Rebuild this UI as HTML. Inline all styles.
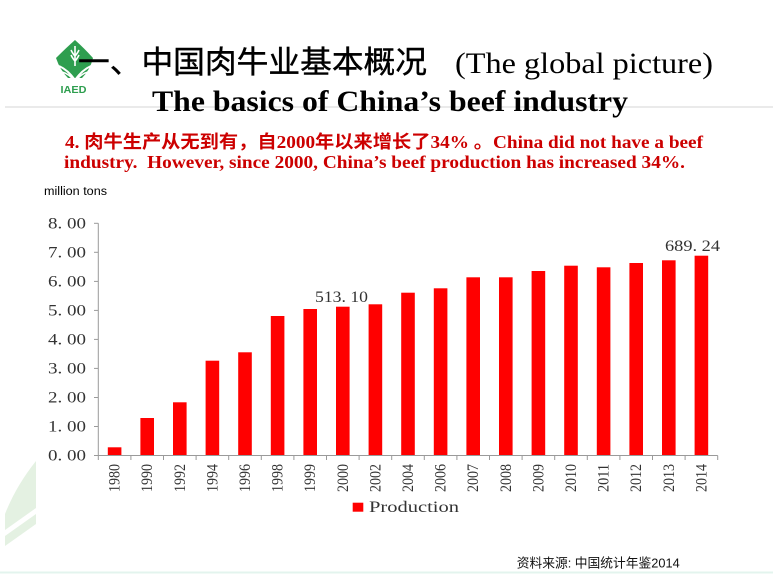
<!DOCTYPE html>
<html><head><meta charset="utf-8"><style>
html,body{margin:0;padding:0;background:#fff;}
svg{display:block;}
</style></head><body>
<svg width="773" height="574" viewBox="0 0 773 574" xmlns="http://www.w3.org/2000/svg">
<rect width="773" height="574" fill="#ffffff"/>
<!-- background leaf decoration -->
<path d="M36,461 L36,508 L5,530 L5,514 Q16,486 36,461 Z" fill="#e4f1e2"/>
<path d="M36,514 L36,524 L5,546 L5,536 Z" fill="#e4f1e2"/>
<line x1="0" y1="572.5" x2="773" y2="572.5" stroke="#e3f4ee" stroke-width="2"/>
<!-- logo -->
<path d="M75,40 Q84,48 93,58 Q90,70 82,78 L68,78 Q60,70 56,58 Q66,48 75,40 Z" fill="#2e9e4f"/>
<path d="M75,46 L75,66 M71,50 Q73,54 75,56 M79,50 Q77,54 75,56 M71,55 Q73,59 75,61 M79,55 Q77,59 75,61" stroke="#fff" stroke-width="1.6" fill="none"/>
<path d="M59,66 Q68,70 75,80 Q82,70 91,66" stroke="#fff" stroke-width="2" fill="none"/>
<path d="M62,72 Q70,74 75,82 Q80,74 88,72" stroke="#fff" stroke-width="1.5" fill="none"/>
<text x="60.5" y="93" font-family="Liberation Sans, sans-serif" font-weight="bold" font-size="10" fill="#2e9e4f" textLength="26" lengthAdjust="spacingAndGlyphs">IAED</text>
<!-- separator -->
<line x1="5" y1="107" x2="773" y2="107" stroke="#d4d4d4" stroke-width="1"/>
<!-- titles -->
<text x="78" y="73" font-family="Liberation Serif, 'Noto Sans CJK SC', sans-serif" font-size="31" fill="#000" stroke="#000" stroke-width="0.4" textLength="349" lengthAdjust="spacingAndGlyphs">一、中国肉牛业基本概况</text>
<text x="455" y="73" font-family="Liberation Serif, 'Noto Serif CJK SC', serif" font-size="30" fill="#000" textLength="258" lengthAdjust="spacingAndGlyphs">(The global picture)</text>
<text x="152" y="111" font-family="Liberation Serif, serif" font-weight="bold" font-size="30" fill="#000" textLength="476" lengthAdjust="spacingAndGlyphs">The basics of China’s beef industry</text>
<text x="65" y="148" font-family="Liberation Serif, 'Noto Sans CJK SC', serif" font-weight="bold" font-size="18" fill="#cc0000" textLength="638" lengthAdjust="spacingAndGlyphs">4. 肉牛生产从无到有，自2000年以来增长了34% 。China did not have a beef</text>
<text x="64" y="168" font-family="Liberation Serif, serif" font-weight="bold" font-size="18" fill="#cc0000" textLength="621" lengthAdjust="spacingAndGlyphs">industry.&#160; However, since 2000, China’s beef production has increased 34%.</text>
<text x="44" y="195" font-family="Liberation Sans, sans-serif" font-size="11.5" fill="#000" textLength="63" lengthAdjust="spacingAndGlyphs">million tons</text>
<!-- y axis -->
<g stroke="#9a9a9a" stroke-width="1">
<line x1="98.3" y1="223.3" x2="98.3" y2="455.5"/>
<line x1="94" y1="223.3" x2="98.3" y2="223.3"/>
<line x1="94" y1="252.3" x2="98.3" y2="252.3"/>
<line x1="94" y1="281.4" x2="98.3" y2="281.4"/>
<line x1="94" y1="310.4" x2="98.3" y2="310.4"/>
<line x1="94" y1="339.4" x2="98.3" y2="339.4"/>
<line x1="94" y1="368.4" x2="98.3" y2="368.4"/>
<line x1="94" y1="397.5" x2="98.3" y2="397.5"/>
<line x1="94" y1="426.5" x2="98.3" y2="426.5"/>
<line x1="94" y1="455.5" x2="98.3" y2="455.5"/>
</g>
<g font-family="Liberation Serif, serif" font-size="16" fill="#333">
<text x="48" y="228.5" textLength="38" lengthAdjust="spacingAndGlyphs">8. 00</text>
<text x="48" y="257.5" textLength="38" lengthAdjust="spacingAndGlyphs">7. 00</text>
<text x="48" y="286.5" textLength="38" lengthAdjust="spacingAndGlyphs">6. 00</text>
<text x="48" y="315.5" textLength="38" lengthAdjust="spacingAndGlyphs">5. 00</text>
<text x="48" y="344.5" textLength="38" lengthAdjust="spacingAndGlyphs">4. 00</text>
<text x="48" y="373.5" textLength="38" lengthAdjust="spacingAndGlyphs">3. 00</text>
<text x="48" y="402.5" textLength="38" lengthAdjust="spacingAndGlyphs">2. 00</text>
<text x="48" y="431.5" textLength="38" lengthAdjust="spacingAndGlyphs">1. 00</text>
<text x="48" y="460.5" textLength="38" lengthAdjust="spacingAndGlyphs">0. 00</text>
</g>
<!-- bars -->
<g fill="#ff0000">
<rect x="107.8" y="447.3" width="13.6" height="8.2"/>
<rect x="140.4" y="418" width="13.6" height="37.5"/>
<rect x="173.0" y="402.3" width="13.6" height="53.2"/>
<rect x="205.6" y="360.7" width="13.6" height="94.8"/>
<rect x="238.2" y="352.3" width="13.6" height="103.2"/>
<rect x="270.8" y="316" width="13.6" height="139.5"/>
<rect x="303.4" y="309" width="13.6" height="146.5"/>
<rect x="336.0" y="306.7" width="13.6" height="148.8"/>
<rect x="368.6" y="304.3" width="13.6" height="151.2"/>
<rect x="401.2" y="292.7" width="13.6" height="162.8"/>
<rect x="433.8" y="288.3" width="13.6" height="167.2"/>
<rect x="466.4" y="277.3" width="13.6" height="178.2"/>
<rect x="499.0" y="277.3" width="13.6" height="178.2"/>
<rect x="531.6" y="271" width="13.6" height="184.5"/>
<rect x="564.2" y="265.7" width="13.6" height="189.8"/>
<rect x="596.8" y="267.3" width="13.6" height="188.2"/>
<rect x="629.4" y="263" width="13.6" height="192.5"/>
<rect x="662.0" y="260.3" width="13.6" height="195.2"/>
<rect x="694.6" y="255.7" width="13.6" height="199.8"/>
</g>
<!-- x axis -->
<g stroke="#9a9a9a" stroke-width="1">
<line x1="98.3" y1="455.5" x2="717.7" y2="455.5"/>
<line x1="98.3" y1="455.5" x2="98.3" y2="460"/>
<line x1="130.9" y1="455.5" x2="130.9" y2="460"/>
<line x1="163.5" y1="455.5" x2="163.5" y2="460"/>
<line x1="196.1" y1="455.5" x2="196.1" y2="460"/>
<line x1="228.7" y1="455.5" x2="228.7" y2="460"/>
<line x1="261.3" y1="455.5" x2="261.3" y2="460"/>
<line x1="293.9" y1="455.5" x2="293.9" y2="460"/>
<line x1="326.5" y1="455.5" x2="326.5" y2="460"/>
<line x1="359.1" y1="455.5" x2="359.1" y2="460"/>
<line x1="391.7" y1="455.5" x2="391.7" y2="460"/>
<line x1="424.3" y1="455.5" x2="424.3" y2="460"/>
<line x1="456.9" y1="455.5" x2="456.9" y2="460"/>
<line x1="489.5" y1="455.5" x2="489.5" y2="460"/>
<line x1="522.1" y1="455.5" x2="522.1" y2="460"/>
<line x1="554.7" y1="455.5" x2="554.7" y2="460"/>
<line x1="587.3" y1="455.5" x2="587.3" y2="460"/>
<line x1="619.9" y1="455.5" x2="619.9" y2="460"/>
<line x1="652.5" y1="455.5" x2="652.5" y2="460"/>
<line x1="685.1" y1="455.5" x2="685.1" y2="460"/>
<line x1="717.7" y1="455.5" x2="717.7" y2="460"/>
</g>
<g font-family="Liberation Serif, serif" font-size="16" fill="#333" text-anchor="end">
<text transform="translate(119.6,464) rotate(-90)" textLength="28" lengthAdjust="spacingAndGlyphs">1980</text>
<text transform="translate(152.2,464) rotate(-90)" textLength="28" lengthAdjust="spacingAndGlyphs">1990</text>
<text transform="translate(184.8,464) rotate(-90)" textLength="28" lengthAdjust="spacingAndGlyphs">1992</text>
<text transform="translate(217.4,464) rotate(-90)" textLength="28" lengthAdjust="spacingAndGlyphs">1994</text>
<text transform="translate(250.0,464) rotate(-90)" textLength="28" lengthAdjust="spacingAndGlyphs">1996</text>
<text transform="translate(282.6,464) rotate(-90)" textLength="28" lengthAdjust="spacingAndGlyphs">1998</text>
<text transform="translate(315.2,464) rotate(-90)" textLength="28" lengthAdjust="spacingAndGlyphs">1999</text>
<text transform="translate(347.8,464) rotate(-90)" textLength="28" lengthAdjust="spacingAndGlyphs">2000</text>
<text transform="translate(380.4,464) rotate(-90)" textLength="28" lengthAdjust="spacingAndGlyphs">2002</text>
<text transform="translate(413.0,464) rotate(-90)" textLength="28" lengthAdjust="spacingAndGlyphs">2004</text>
<text transform="translate(445.6,464) rotate(-90)" textLength="28" lengthAdjust="spacingAndGlyphs">2006</text>
<text transform="translate(478.2,464) rotate(-90)" textLength="28" lengthAdjust="spacingAndGlyphs">2007</text>
<text transform="translate(510.8,464) rotate(-90)" textLength="28" lengthAdjust="spacingAndGlyphs">2008</text>
<text transform="translate(543.4,464) rotate(-90)" textLength="28" lengthAdjust="spacingAndGlyphs">2009</text>
<text transform="translate(576.0,464) rotate(-90)" textLength="28" lengthAdjust="spacingAndGlyphs">2010</text>
<text transform="translate(608.6,464) rotate(-90)" textLength="28" lengthAdjust="spacingAndGlyphs">2011</text>
<text transform="translate(641.2,464) rotate(-90)" textLength="28" lengthAdjust="spacingAndGlyphs">2012</text>
<text transform="translate(673.8,464) rotate(-90)" textLength="28" lengthAdjust="spacingAndGlyphs">2013</text>
<text transform="translate(706.4,464) rotate(-90)" textLength="28" lengthAdjust="spacingAndGlyphs">2014</text>
</g>
<!-- data labels -->
<g font-family="Liberation Serif, serif" font-size="16" fill="#333">
<text x="315" y="302" textLength="53" lengthAdjust="spacingAndGlyphs">513. 10</text>
<text x="665" y="251" textLength="55" lengthAdjust="spacingAndGlyphs">689. 24</text>
</g>
<!-- legend -->
<rect x="352.7" y="502.7" width="10.6" height="9" fill="#ff0000"/>
<text x="369" y="512" font-family="Liberation Serif, serif" font-size="16" fill="#333" textLength="90" lengthAdjust="spacingAndGlyphs">Production</text>
<!-- source -->
<text x="516.7" y="567.3" font-family="Liberation Sans, 'Noto Sans CJK SC', sans-serif" font-size="13" fill="#111" textLength="163" lengthAdjust="spacingAndGlyphs">资料来源: 中国统计年鉴2014</text>
</svg>
</body></html>
